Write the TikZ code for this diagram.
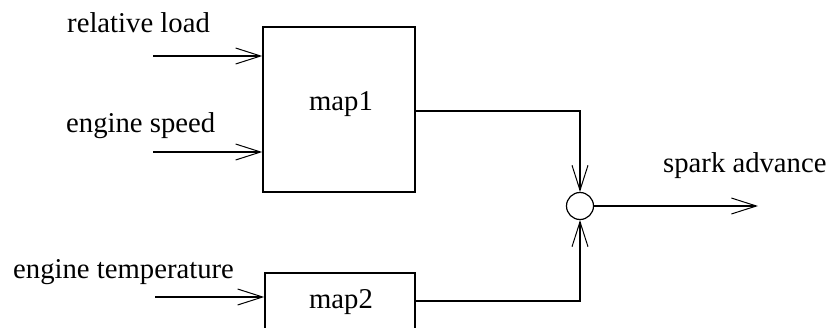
\documentclass[tikz,border=0pt]{standalone}
\usepackage{fontspec}
\setmainfont{Liberation Serif}
\usetikzlibrary{arrows.meta}
\begin{document}
\begin{tikzpicture}[x=1pt,y=-1pt,
  every node/.style={font=\fontsize{28.7}{32}\selectfont},
  mapbox/.style={draw,line width=1.5pt,rectangle,inner sep=0pt},
  sig/.style={line width=1.5pt},
  flow/.style={sig,-{Straight Barb[length=25pt,width=16pt,line width=1pt]}},
  lbl/.style={anchor=base west,inner sep=0pt}]
\useasboundingbox (0,0) rectangle (828,327);
\clip (0,0) rectangle (828,327);

% blocks
\node[mapbox,minimum width=152pt,minimum height=165pt] (map1) at (339,109.5) {};
\node[lbl,anchor=base] (t1) at (341,110) {map1};
\node[mapbox,minimum width=150pt,minimum height=60pt] (map2) at (340,303) {};
\node[lbl,anchor=base] (t2) at (341,308) {map2};
\node[draw,circle,line width=1.2pt,minimum size=27pt,inner sep=0pt] (sum) at (580,206) {};

% input signals
\coordinate (in1) at (153,56);
\coordinate (in2) at (153,152);
\coordinate (in3) at (155,297);
\draw[flow] (in1) -- (in1 -| map1.west);
\draw[flow] (in2) -- (in2 -| map1.west);
\draw[flow] (in3) -- (in3 -| map2.west);

% outputs into the summing junction
\coordinate (o1) at (415,111);
\coordinate (o2) at (415,301);
\draw[flow] (o1) -| (sum.north);
\draw[flow] (o2) -| (sum.south);

\coordinate (out) at (758,206);
\draw[flow] (sum.east) -- (out);

% signal names
\node[lbl] (l1) at (67,32) {relative load};
\node[lbl] (l2) at (66,132) {engine speed};
\node[lbl] (l3) at (13,278) {engine temperature};
\node[lbl] (l4) at (663,172) {spark advance};
\end{tikzpicture}
\end{document}
